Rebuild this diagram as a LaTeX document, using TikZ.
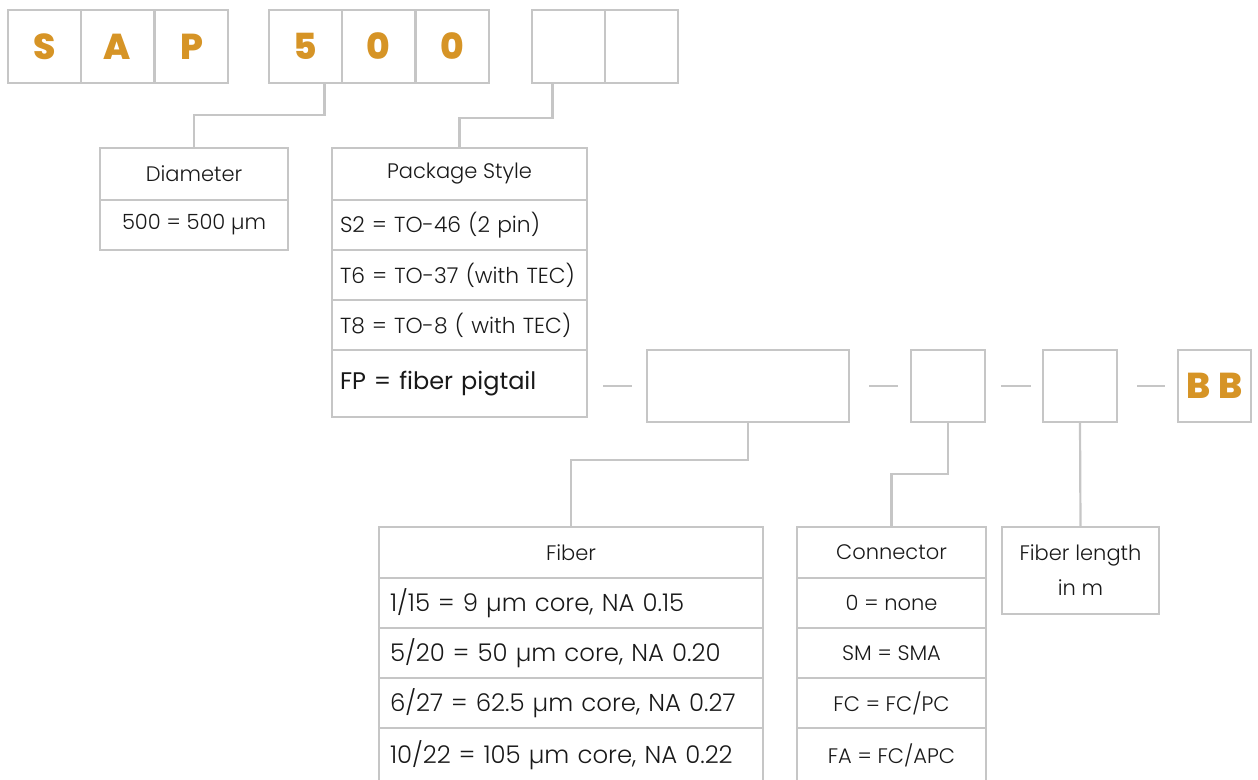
\documentclass[tikz,border=0pt]{standalone}
\usepackage{fontspec}
\setmainfont{Poppins}
\newfontfamily\lightfont{Poppins Light}
\newfontfamily\heavyfont{Poppins ExtraBold}
\newcommand{\pxu}{0.5pt}

\begin{document}
\begin{tikzpicture}[x=0.5pt,y=-0.5pt,
	box/.style={draw=linegray,line width=1.1pt,rectangle,inner sep=0pt,outer sep=0pt,anchor=north west,text=textdark},
	code/.style={box,minimum width=73*\pxu,minimum height=73*\pxu,text=codeorange,font=\heavyfont\fontsize{18}{18}\selectfont},
	slot/.style={box,minimum height=72*\pxu},
	head/.style={box,minimum height=52*\pxu,font=\lightfont\fontsize{10.5}{12}\selectfont},
	row/.style={box,minimum height=50*\pxu,font=\lightfont\fontsize{10.5}{12}\selectfont},
	prow/.style={row,text width=239*\pxu,align=left,inner xsep=8*\pxu,font=\lightfont\fontsize{10.9}{12}\selectfont},
	frow/.style={row,text width=362*\pxu,align=left,inner xsep=11*\pxu,font=\lightfont\fontsize{12.2}{14}\selectfont},
	link/.style={draw=linegray,line width=1.1pt}]
	
	\definecolor{linegray}{RGB}{198,198,198}
	\definecolor{codeorange}{RGB}{214,148,38}
	\definecolor{textdark}{RGB}{25,25,25}
	
	\useasboundingbox (0,0) rectangle (1258,780);
	
	% part number
	\node[code] (c1) at (8,10) {S};
	\node[code] (c2) at (81,10) {A};
	\node[code] (c3) at (155,10) {P};
	\node[code] (d1) at (269,10) {5};
	\node[code] (d2) at (342,10) {0};
	\node[code] (d3) at (416,10) {0};
	\node[code] (p1) at (532,10) {};
	\node[code] (p2) at (605,10) {};
	
	% diameter
	\node[head,minimum width=188*\pxu] (diamhead) at (100,148) {Diameter};
	\node[row,minimum width=188*\pxu] (diam1) at (100,200) {500 = 500 µm};
	
	% package style
	\node[head,minimum width=255*\pxu] (pshead) at (332,148) {Package Style};
	\node[prow] (ps1) at (332,200) {S2 = TO-46 (2 pin)};
	\node[prow] (ps2) at (332,250) {T6 = TO-37 (with TEC)};
	\node[prow] (ps3) at (332,300) {T8 = TO-8 ( with TEC)};
	\node[prow,minimum height=67*\pxu,font=\fontsize{12}{14}\selectfont] (ps4) at (332,350) {FP = fiber pigtail};
	
	% pigtail options
	\node[slot,minimum width=202*\pxu] (fibbox) at (647,350) {};
	\node[slot,minimum width=74*\pxu] (conbox) at (911,350) {};
	\node[slot,minimum width=74*\pxu] (lenbox) at (1043,350) {};
	\node[slot,minimum width=73*\pxu,text=codeorange,font=\heavyfont\fontsize{18}{18}\selectfont] (bbbox) at (1178,350) {B\hspace{4pt}B};
	
	% fiber
	\node[head,minimum width=384*\pxu,minimum height=51*\pxu] (fibhead) at (379,527) {Fiber};
	\node[frow] (fib1) at (379,578) {1/15 = 9 µm core, NA 0.15};
	\node[frow] (fib2) at (379,628) {5/20 = 50 µm core, NA 0.20};
	\node[frow] (fib3) at (379,678) {6/27 = 62.5 µm core, NA 0.27};
	\node[frow,minimum height=54*\pxu] (fib4) at (379,728) {10/22 = 105 µm core, NA 0.22};
	
	% connector
	\node[head,minimum width=189*\pxu,minimum height=51*\pxu] (conhead) at (797,527) {Connector};
	\node[row,minimum width=189*\pxu] (con1) at (797,578) {0 = none};
	\node[row,minimum width=189*\pxu] (con2) at (797,628) {SM = SMA};
	\node[row,minimum width=189*\pxu] (con3) at (797,678) {FC = FC/PC};
	\node[row,minimum width=189*\pxu,minimum height=54*\pxu] (con4) at (797,728) {FA = FC/APC};
	
	% length
	\node[box,minimum width=157*\pxu,minimum height=87*\pxu,align=center,font=\lightfont\fontsize{10.5}{17.5}\selectfont] (lenhead) at (1002,527) {Fiber length\\in m};
	
	\draw[link] (d1.south) ++(19,0) -- ++(0,32) -| (diamhead.north);
	\draw[link] (p1.south) ++(-16,0) -- ++(0,35) -| (pshead.north);
	\draw[link] (fibbox.south) -- ++(0,38) -| (fibhead.north);
	\draw[link] (conbox.south) -- ++(0,52) -| (conhead.north);
	\draw[link] (lenbox.south) -- (lenhead.north);
	
	\draw[link,shorten <=8pt,shorten >=7.5pt] (fibbox.west -| ps4.east) -- (fibbox.west);
	\draw[link,shorten <=10pt,shorten >=6.5pt] (fibbox.east) -- (conbox.west);
	\draw[link,shorten <=8pt,shorten >=6pt] (conbox.east) -- (lenbox.west);
	\draw[link,shorten <=10pt,shorten >=6.5pt] (lenbox.east) -- (bbbox.west);
\end{tikzpicture}
\end{document}
